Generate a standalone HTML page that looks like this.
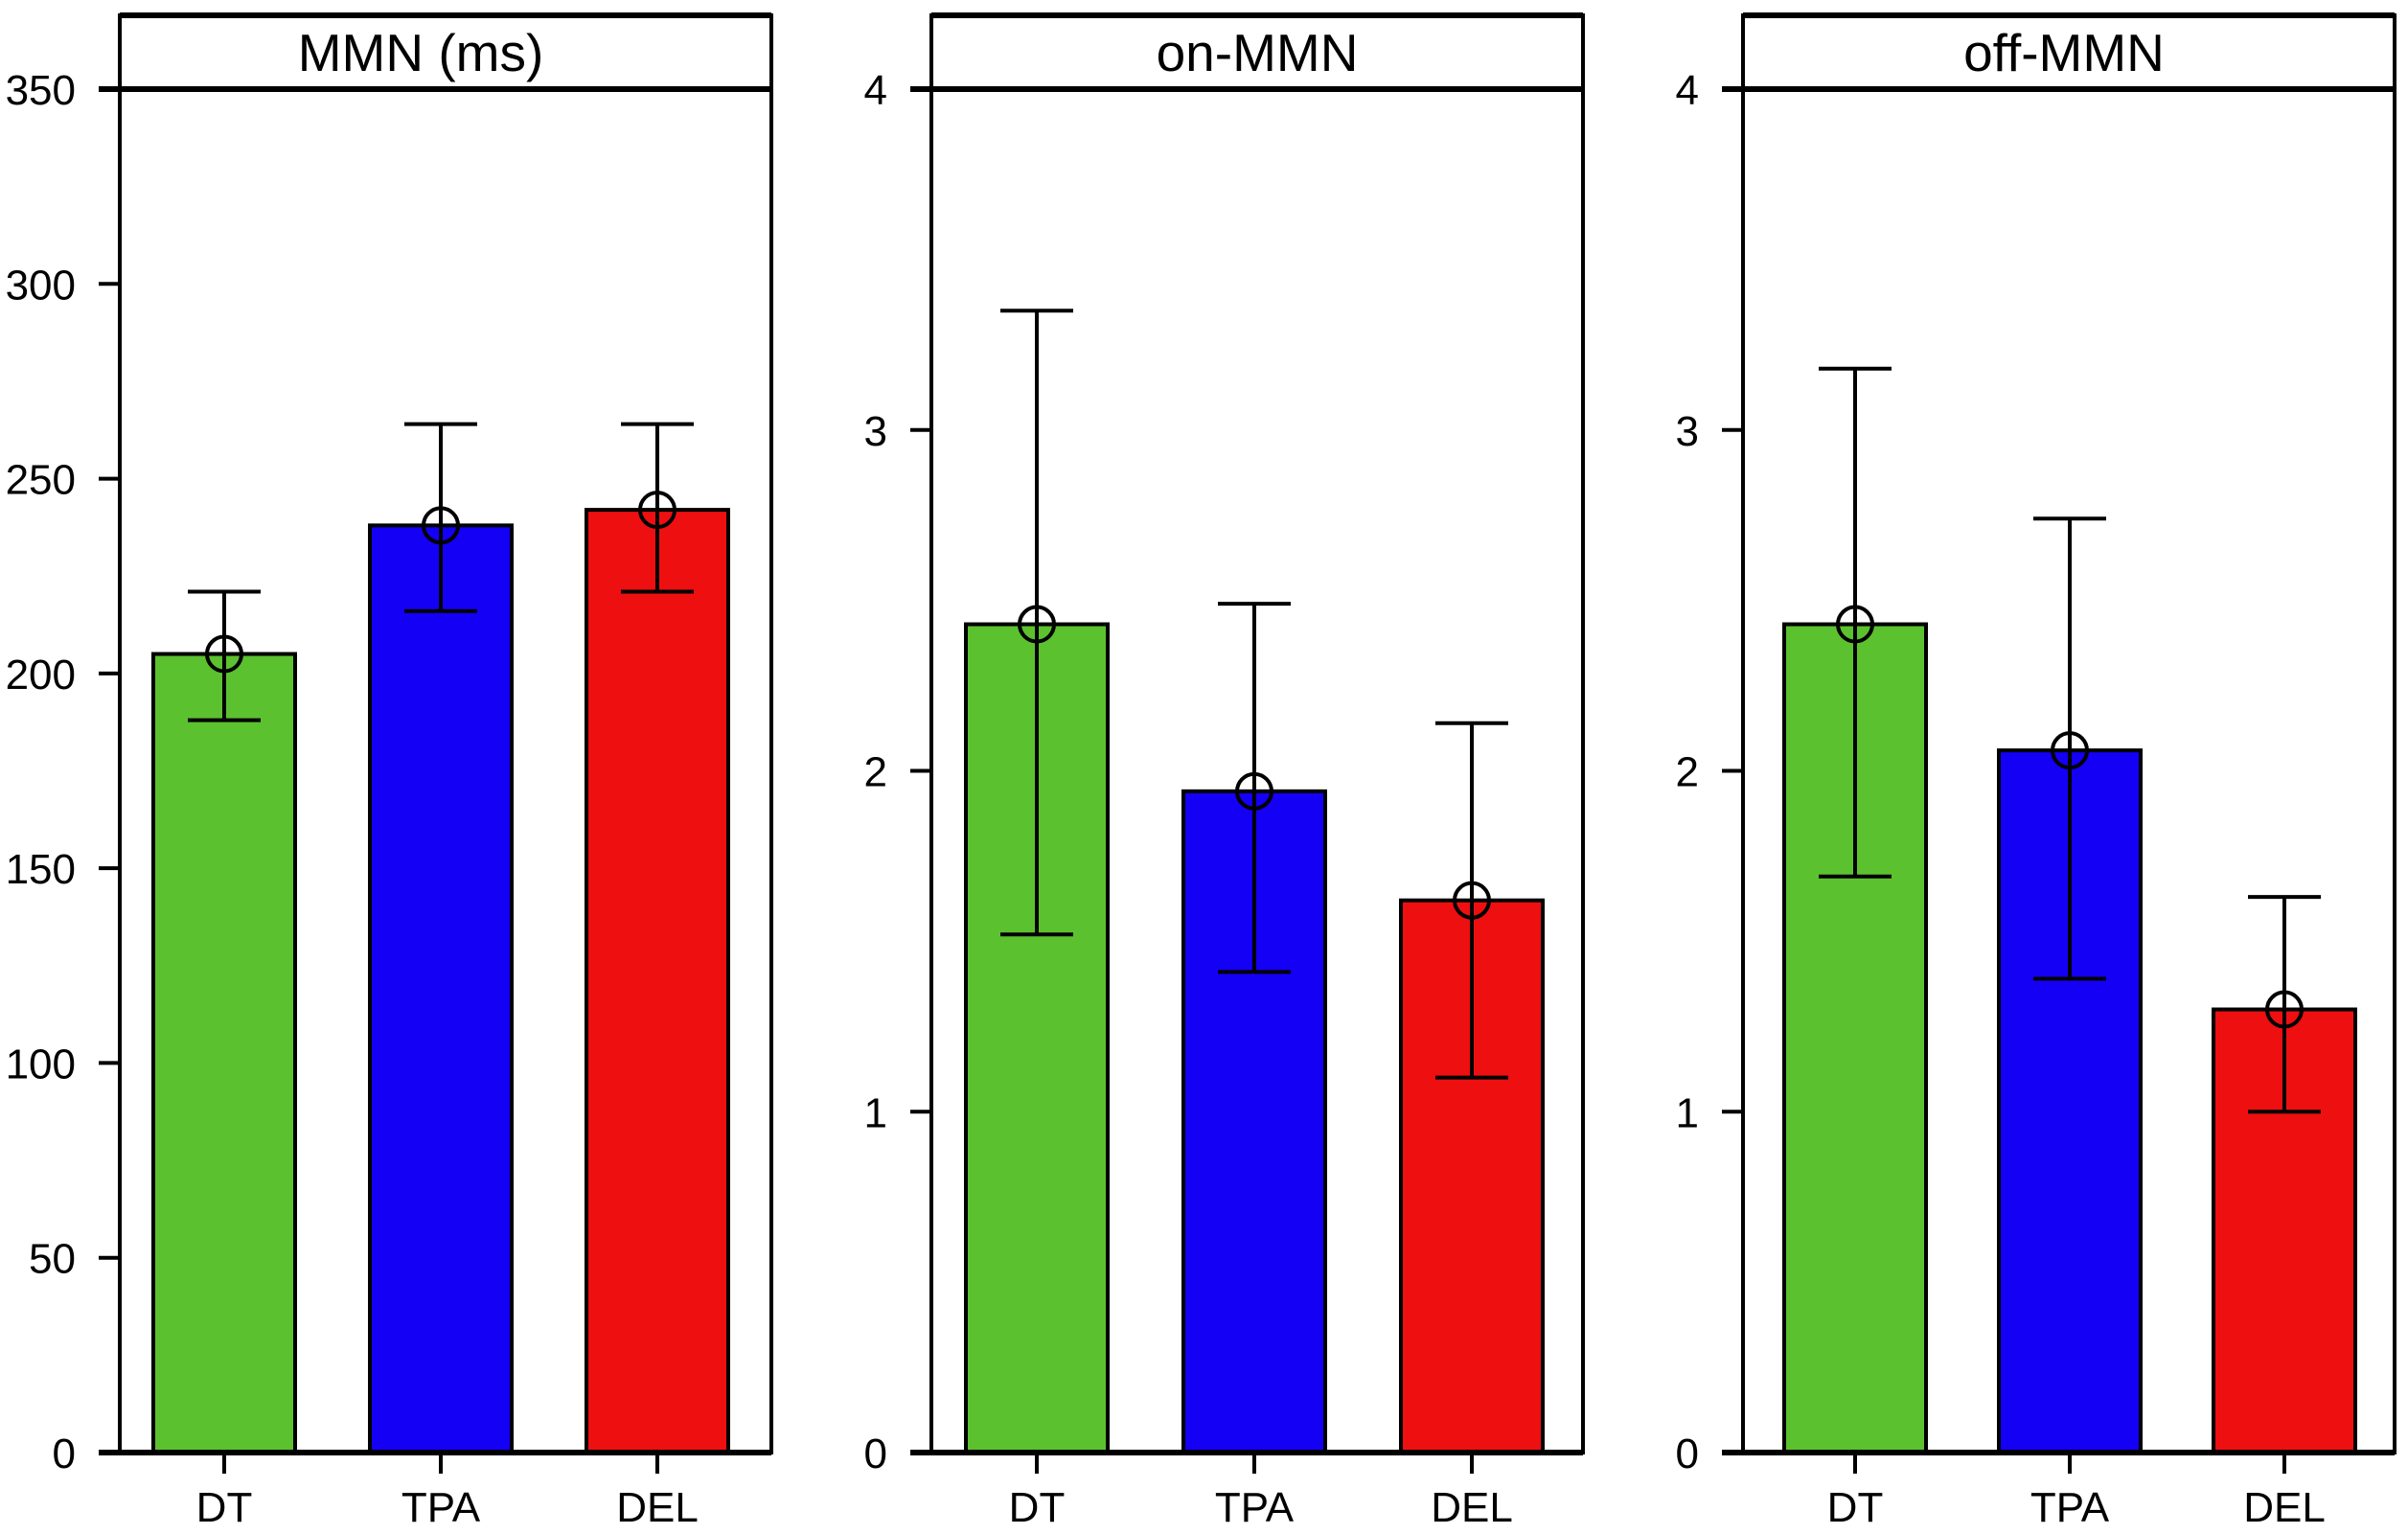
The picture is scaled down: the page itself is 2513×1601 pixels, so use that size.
<!DOCTYPE html>
<html><head><meta charset="utf-8"><style>html,body{margin:0;padding:0;background:#fff}svg{display:block}</style></head>
<body>
<svg id="chart" width="2513" height="1601" xmlns="http://www.w3.org/2000/svg" font-family="Liberation Sans, Arial, sans-serif"></svg>
<script>
const categories = ["DT", "TPA", "DEL"];
const panelTitles = ["MMN (ms)", "on-MMN", "off-MMN"];
const yMaxes = [350, 4, 4];
const yTicks1 = [0, 50, 100, 150, 200, 250, 300, 350];
const yTicks23 = [0, 1, 2, 3, 4];
const meansLatency = [205, 238, 242];
const lowLatency = [188, 216, 221];
const highLatency = [221, 264, 264];
const meansOn = [2.43, 1.94, 1.62];
const lowOn = [1.52, 1.41, 1.10];
const highOn = [3.35, 2.49, 2.14];
const meansOff = [2.43, 2.06, 1.30];
const lowOff = [1.69, 1.39, 1.00];
const highOff = [3.18, 2.74, 1.63];
const colors = ["#5cc12f", "#1400f5", "#ee0f10"];

const svg = document.getElementById('chart');
const NS = "http://www.w3.org/2000/svg";
function mk(tag, attrs, parent) {
  const e = document.createElementNS(NS, tag);
  for (const k in attrs) e.setAttribute(k, attrs[k]);
  (parent || svg).appendChild(e);
  return e;
}
const panels = [
  {left: 125, off: 109, step: 226, tdx: -26, ticks: yTicks1, means: meansLatency, lo: lowLatency, hi: highLatency},
  {left: 972, off: 110, step: 227, tdx: 0, ticks: yTicks23, means: meansOn, lo: lowOn, hi: highOn},
  {left: 1819, off: 117, step: 224, tdx: -5, ticks: yTicks23, means: meansOff, lo: lowOff, hi: highOff}
];
const W = 680, frameTop = 16, stripBottom = 93, base = 1516;
panels.forEach((p, pi) => {
  const g = mk('g', {});
  
  
  const yMax = yMaxes[pi];
  const y = v => base - (v / yMax) * (base - stripBottom);
  const x = i => p.left + p.off + i * p.step;
  p.means.forEach((m, i) => {
    const r = mk('rect', {x: x(i) - 74, y: y(m), width: 148, height: base - y(m), fill: colors[i], stroke: '#000', 'stroke-width': 4}, g);
    
    
  });
  p.means.forEach((m, i) => {
    const eg = mk('g', {stroke: '#000', 'stroke-width': 4, fill: 'none'}, g);
    
    
    mk('line', {x1: x(i), x2: x(i), y1: y(p.hi[i]), y2: y(p.lo[i])}, eg);
    mk('line', {x1: x(i) - 38, x2: x(i) + 38, y1: y(p.hi[i]), y2: y(p.hi[i])}, eg);
    mk('line', {x1: x(i) - 38, x2: x(i) + 38, y1: y(p.lo[i]), y2: y(p.lo[i])}, eg);
    mk('circle', {cx: x(i), cy: y(m), r: 18}, eg);
  });
  const fr = mk('rect', {x: p.left, y: frameTop, width: W, height: base - frameTop, fill: 'none', stroke: '#000', 'stroke-width': 4}, g);
  
  
  mk('line', {x1: p.left, x2: p.left + W, y1: frameTop, y2: frameTop, stroke: '#000', 'stroke-width': 6}, g);
  mk('line', {x1: p.left - 22, x2: p.left + W, y1: stripBottom, y2: stripBottom, stroke: '#000', 'stroke-width': 6}, g);
  mk('line', {x1: p.left - 22, x2: p.left + W, y1: base, y2: base, stroke: '#000', 'stroke-width': 6}, g);
  const t = mk('text', {x: p.left + W / 2 + p.tdx, y: 74, 'font-size': 55, 'text-anchor': 'middle', fill: '#000'}, g);
  t.textContent = panelTitles[pi];
  
  
  p.ticks.forEach(v => {
    mk('line', {x1: p.left - 22, x2: p.left, y1: y(v), y2: y(v), stroke: '#000', 'stroke-width': 4}, g);
    const tl = mk('text', {x: p.left - 46, y: y(v) + 16, 'font-size': 44, 'text-anchor': 'end', fill: '#000'}, g);
    tl.textContent = v;
    
    
  });
  categories.forEach((c, i) => {
    mk('line', {x1: x(i), x2: x(i), y1: base, y2: base + 22, stroke: '#000', 'stroke-width': 4}, g);
    const xl = mk('text', {x: x(i), y: 1588, 'font-size': 44, 'text-anchor': 'middle', fill: '#000'}, g);
    xl.textContent = c;
    
    
  });
});
</script>
</body></html>
